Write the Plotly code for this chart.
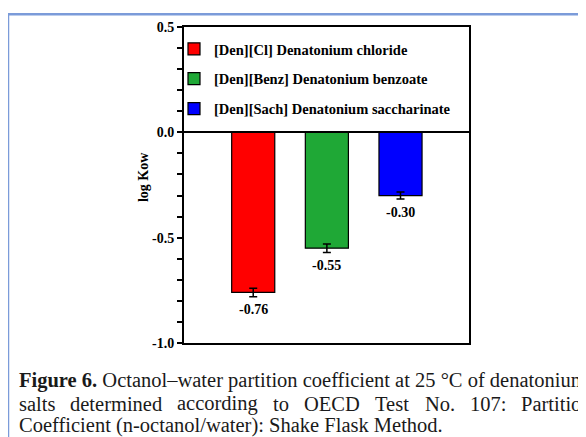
import plotly.graph_objects as go

# ---- data ----
names = ["[Den][Cl] Denatonium chloride",
         "[Den][Benz] Denatonium benzoate",
         "[Den][Sach] Denatonium saccharinate"]
positions = [0, 1, 2]
log_kow = [-0.76, -0.55, -0.30]
errors = [0.02, 0.02, 0.017]
ytick_vals = [0.5, 0.0, -0.5, -1.0]
ytick_text = ["0.5", "0.0", "-0.5", "-1.0"]

colors = ["#ff0000", "#1fa836", "#0000ff"]

# caption: line 1 and 3 as whole strings, line 2 justified word by word
caption_line1 = "<b>Figure 6.</b> Octanol\u2013water partition coefficient at 25 \u00b0C of denatonium"
caption_line2 = [("salts", 17), ("determined", 68), ("according", 175), ("to", 271),
                 ("OECD", 302), ("Test", 373), ("No.", 423), ("107:", 468),
                 ("Partition", 519)]
caption_line3 = "Coefficient (n-octanol/water): Shake Flask Method."
caption_y = [380.5, 404.5, 426.5]

# ---- layout geometry (window pixels) ----
W, H = 586, 437
OFF = 8                      # page body margin of the browser
L, R, T, B = 184, 469, 23, 343


def px(x):
    return (x - L) / (R - L)


def py(y):
    return (B - y) / (B - T)


SERIF = "Liberation Serif, 'Times New Roman', Times, serif"
bold14 = dict(family=SERIF, size=14, color="black", weight="bold")
cap_font = dict(family=SERIF, size=20.5, color="#1a1a1a")

fig = go.Figure()
for i, (n, x, v, e, c) in enumerate(zip(names, positions, log_kow, errors, colors)):
    fig.add_trace(go.Bar(
        x=[x], y=[v], name=n, width=0.585,
        marker=dict(color=c, line=dict(color="black", width=1.2)),
        error_y=dict(type="data", array=[e], color="black", thickness=1.5, width=4),
        legendgroup=f"g{i}",
    ))

annotations = []
for x, v in zip(positions, log_kow):
    annotations.append(dict(x=x, y=v, xref="x", yref="y", text=f"{v:.2f}",
                            showarrow=False, yshift=-17, font=bold14))

annotations.append(dict(x=px(143), y=py(175), xref="paper", yref="paper",
                        text="log Kow", textangle=-90, showarrow=False,
                        font=bold14, xanchor="center", yanchor="middle"))

annotations.append(dict(x=px(17), y=py(caption_y[0]), xref="paper", yref="paper",
                        text=caption_line1, showarrow=False, xanchor="left",
                        yanchor="middle", font=cap_font))
for w, xw in caption_line2:
    annotations.append(dict(x=px(xw), y=py(caption_y[1]), xref="paper", yref="paper",
                            text=w, showarrow=False, xanchor="left",
                            yanchor="middle", font=cap_font))
annotations.append(dict(x=px(17), y=py(caption_y[2]), xref="paper", yref="paper",
                        text=caption_line3, showarrow=False, xanchor="left",
                        yanchor="middle", font=cap_font))

shapes = [
    dict(type="line", xref="paper", yref="paper", x0=px(8), x1=px(8),
         y0=py(460), y1=py(9), line=dict(color="#7b9bd9", width=2.5)),
    dict(type="line", xref="paper", yref="paper", x0=px(7), x1=px(620),
         y0=py(10), y1=py(10), line=dict(color="#7b9bd9", width=2.5)),
]

fig.update_layout(
    width=W, height=H,
    margin=dict(l=L - OFF, r=W - (R - OFF), t=T - OFF, b=H - (B - OFF), pad=0),
    paper_bgcolor="white", plot_bgcolor="white",
    barmode="overlay",
    showlegend=True,
    legend=dict(x=px(174), y=py(29), xanchor="left", yanchor="top",
                bgcolor="rgba(0,0,0,0)",
                font=dict(family=SERIF, size=14.5, color="black", weight="bold"),
                traceorder="grouped", tracegroupgap=8),
    xaxis=dict(range=[-0.94, 2.93], showticklabels=False, ticks="",
               showline=True, mirror=True, linecolor="black", linewidth=2,
               showgrid=False, zeroline=False),
    yaxis=dict(range=[-1.0, 0.5], tickmode="array", tickvals=ytick_vals,
               ticktext=ytick_text, ticks="outside", ticklen=5, tickwidth=1.5,
               tickcolor="black", tickfont=bold14,
               minor=dict(tick0=0, dtick=0.1, ticks="outside", ticklen=5,
                          tickwidth=1.5, tickcolor="black", showgrid=False),
               showline=True, mirror=True, linecolor="black", linewidth=2,
               showgrid=False, zeroline=True, zerolinecolor="black",
               zerolinewidth=2),
    annotations=annotations,
    shapes=shapes,
)

fig.write_html("out.html")
